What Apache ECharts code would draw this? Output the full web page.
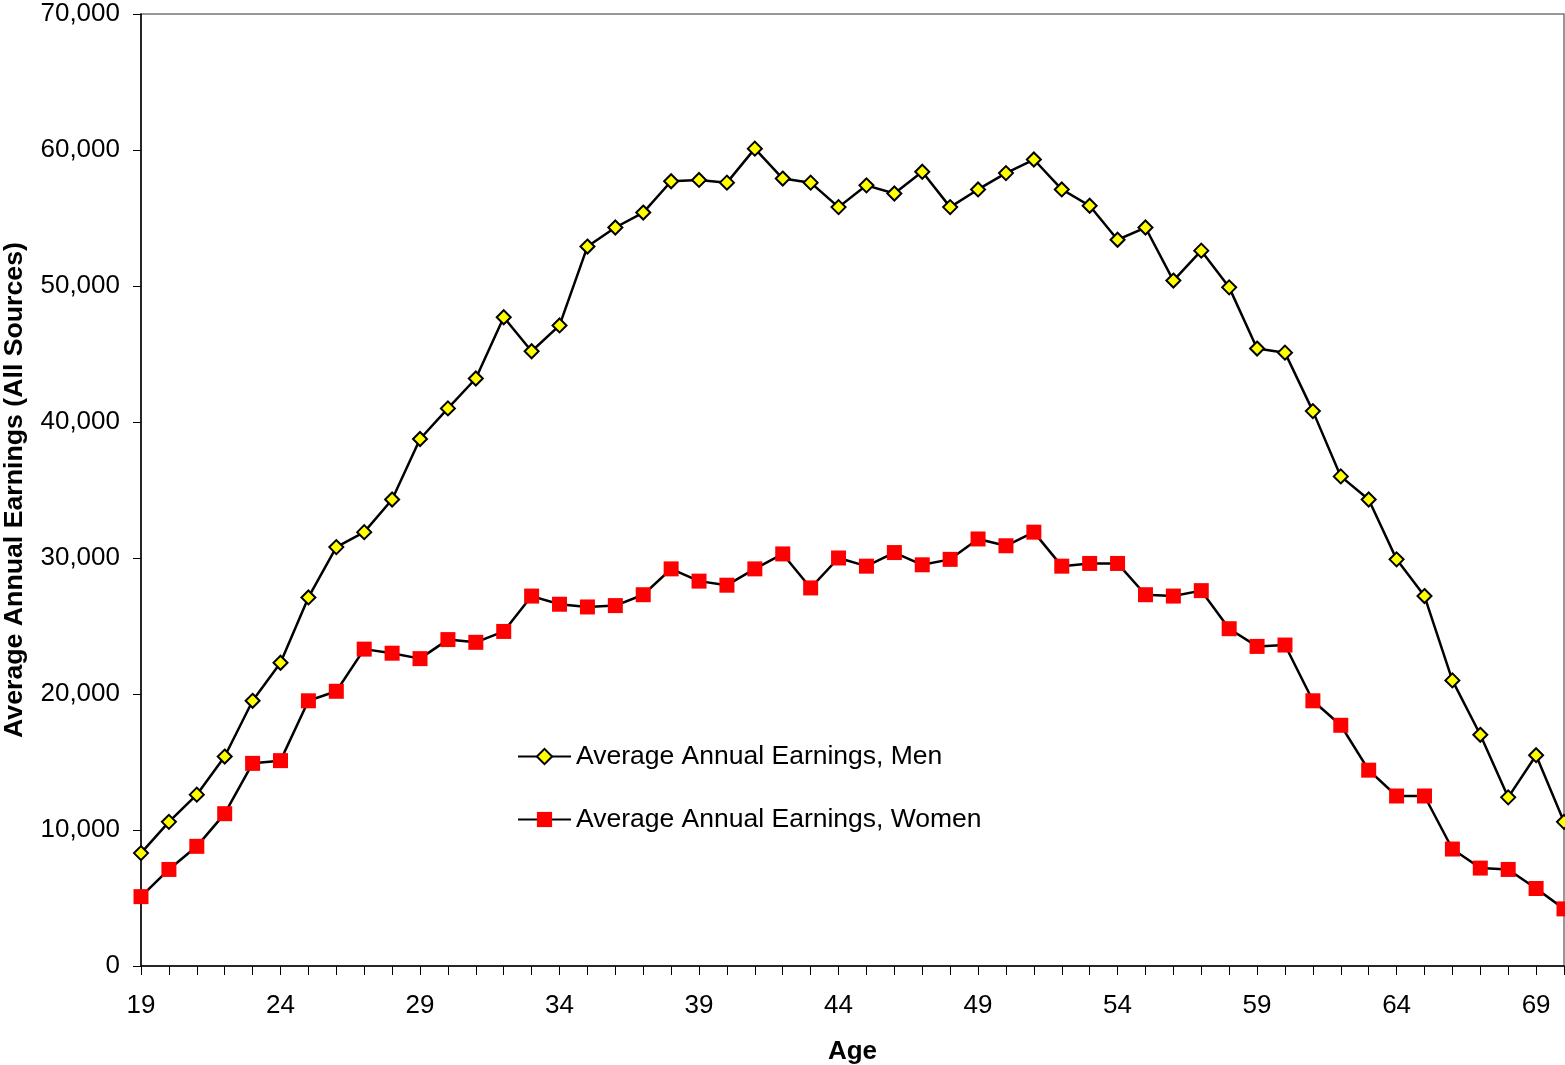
<!DOCTYPE html>
<html>
<head>
<meta charset="utf-8">
<script src="https://cdn.jsdelivr.net/npm/echarts@6/dist/echarts.min.js"></script>
<style>
html,body{margin:0;padding:0;background:#fff;}
#chart{width:1565px;height:1065px;}
</style>
</head>
<body>
<div id="chart"></div>
<script>
const ages = [19,20,21,22,23,24,25,26,27,28,29,30,31,32,33,34,35,36,37,38,39,40,41,42,43,44,45,46,47,48,49,50,51,52,53,54,55,56,57,58,59,60,61,62,63,64,65,66,67,68,69,70];
const menEarnings = [8300,10600,12600,15400,19500,22300,27100,30800,31900,34300,38750,41000,43200,47700,45200,47100,52900,54300,55400,57700,57800,57600,60100,57900,57600,55800,57400,56800,58400,55800,57100,58300,59300,57100,55900,53400,54300,50400,52600,49900,45400,45100,40800,36000,34300,29900,27200,21000,17000,12400,15500,10600];
const womenEarnings = [5100,7100,8800,11200,14900,15100,19500,20200,23300,23000,22600,24000,23800,24600,27200,26600,26400,26500,27300,29200,28300,28000,29200,30300,27800,30000,29400,30400,29500,29900,31400,30900,31900,29400,29600,29600,27300,27200,27600,24800,23500,23600,19500,17700,14400,12500,12500,8600,7200,7100,5700,4200];
const seriesNames = ['Average Annual Earnings, Men','Average Annual Earnings, Women'];
const yTicks = {min:0, max:70000, interval:10000};

const FONT = 'Liberation Sans, Arial, sans-serif';
const chart = echarts.init(document.getElementById('chart'), null, {renderer:'canvas'});
chart.setOption({
  animation:false,
  backgroundColor:'#ffffff',
  grid:{left:141, right:1, top:14, bottom:99, outerBoundsMode:'none', containLabel:false,
        show:true, borderColor:'#777777', borderWidth:1.5, backgroundColor:'transparent'},
  legend:{
    orient:'vertical', left:517, top:743, padding:0,
    itemWidth:53, itemHeight:19, itemGap:36,
    textStyle:{fontFamily:FONT, fontSize:26.5, color:'#000', lineHeight:26},
    data:seriesNames
  },
  xAxis:{
    type:'category', data:ages.map(String), boundaryGap:false,
    name:'Age', nameLocation:'middle', nameGap:73,
    nameTextStyle:{fontFamily:FONT, fontSize:26, fontWeight:'bold', color:'#000'},
    axisLine:{lineStyle:{color:'#000', width:1.5}},
    axisTick:{show:true, interval:0, length:9, lineStyle:{color:'#000', width:1}},
    axisLabel:{interval:4, margin:27, fontFamily:FONT, fontSize:26, color:'#000'},
    splitLine:{show:false}
  },
  yAxis:{
    type:'value', min:yTicks.min, max:yTicks.max, interval:yTicks.interval,
    name:'Average Annual Earnings (All Sources)', nameLocation:'middle', nameGap:113, nameRotate:90,
    nameTextStyle:{fontFamily:FONT, fontSize:26.7, fontWeight:'bold', color:'#000'},
    axisLine:{show:true, lineStyle:{color:'#000', width:1.5}},
    axisTick:{show:true, length:8, lineStyle:{color:'#000', width:1}},
    axisLabel:{margin:21, fontFamily:FONT, fontSize:26, color:'#000',
      formatter:v=>v.toLocaleString('en-US')},
    splitLine:{show:false}
  },
  series:[
    {
      name:seriesNames[0], type:'line', data:menEarnings,
      symbol:'diamond', symbolSize:14,
      lineStyle:{color:'#000', width:2.5},
      itemStyle:{color:'#ffff00', borderColor:'#000', borderWidth:2},
      z:3
    },
    {
      name:seriesNames[1], type:'line', data:womenEarnings,
      symbol:'rect', symbolSize:15,
      lineStyle:{color:'#000', width:2.5},
      itemStyle:{color:'#ff0000', borderWidth:0},
      z:2
    }
  ]
});
</script>
</body>
</html>
